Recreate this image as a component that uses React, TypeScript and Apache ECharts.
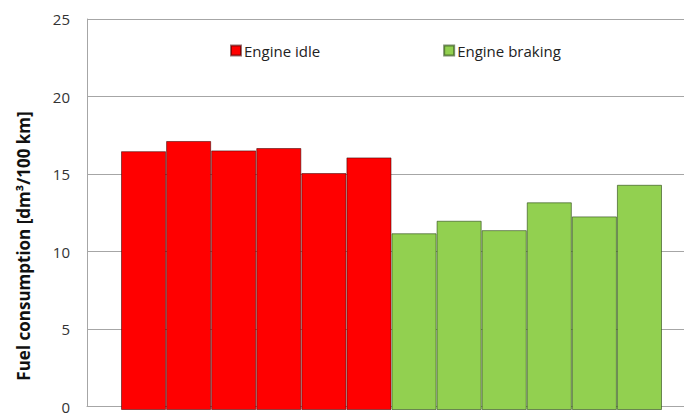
import React, { useEffect, useRef } from "react";
import * as echarts from "echarts";

const categories = ["1", "2", "3", "4", "5", "6", "7", "8", "9", "10", "11", "12"];
const idleValues = [16.55, 17.2, 16.6, 16.75, 15.15, 16.15];
const brakingValues = [11.3, 12.1, 11.5, 13.28, 12.38, 14.4];
const seriesNames = ["Engine idle", "Engine braking"];
const yTitle = "Fuel consumption [dm³/100 km]";

export default function App() {
  const ref = useRef<HTMLDivElement>(null);
  useEffect(() => {
    if (!ref.current) return;
    const chart = echarts.init(ref.current, null, { renderer: "svg" });
    const pad = new Array(6).fill(null);
    const font = "'Open Sans', 'Liberation Sans', sans-serif";
    chart.setOption({
      animation: false,
      textStyle: { fontFamily: font },
      grid: [
        { left: 87, right: -30, top: 19, bottom: 4 },
        { left: 121, right: 22, top: 19, bottom: 4 },
      ],
      legend: {
        left: 225,
        top: 38,
        padding: 5,
        itemWidth: 10,
        itemHeight: 10,
        itemGap: 123,
        icon: "rect",
        textStyle: { fontSize: 15, color: "#222", fontFamily: font, padding: [0, 0, 0, -2] },
        data: seriesNames,
      },
      xAxis: [
        {
          type: "value",
          gridIndex: 0,
          min: 0,
          max: 1,
          axisLabel: { show: false },
          axisTick: { show: false },
          splitLine: { show: false },
          axisLine: { show: true, lineStyle: { color: "#a6a6a6", width: 1 } },
        },
        {
          type: "category",
          gridIndex: 1,
          data: categories,
          show: false,
        },
      ],
      yAxis: [
        {
          type: "value",
          gridIndex: 0,
          min: 0,
          max: 25,
          interval: 5,
          axisLine: { show: true, lineStyle: { color: "#a6a6a6", width: 1 } },
          axisTick: { show: false },
          splitLine: { show: true, lineStyle: { color: "#a6a6a6", width: 1 } },
          axisLabel: { fontSize: 15, color: "#333", margin: 17, fontFamily: font },
        },
        {
          type: "value",
          gridIndex: 1,
          min: 0,
          max: 25,
          show: false,
          splitLine: { show: false },
        },
      ],
      graphic: [
        {
          type: "text",
          x: 23,
          y: 246,
          rotation: Math.PI / 2,
          style: {
            text: yTitle,
            font: `bold 17px ${font}`,
            fill: "#111",
            align: "center",
            verticalAlign: "middle",
          },
        },
      ],
      series: [
        {
          name: seriesNames[0],
          type: "bar",
          xAxisIndex: 1,
          yAxisIndex: 1,
          stack: "all",
          barCategoryGap: 0,
          data: [...idleValues, ...pad],
          itemStyle: { color: "#ff0000", borderColor: "rgba(60,0,0,0.55)", borderWidth: 1 },
        },
        {
          name: seriesNames[1],
          type: "bar",
          xAxisIndex: 1,
          yAxisIndex: 1,
          stack: "all",
          barCategoryGap: 0,
          data: [...pad, ...brakingValues],
          itemStyle: { color: "#92d050", borderColor: "rgba(40,70,20,0.6)", borderWidth: 1 },
        },
      ],
    });
    return () => chart.dispose();
  }, []);
  return <div ref={ref} style={{ width: 684, height: 414, position: "absolute", left: 0, top: 0, background: "#fff" }} />;
}
